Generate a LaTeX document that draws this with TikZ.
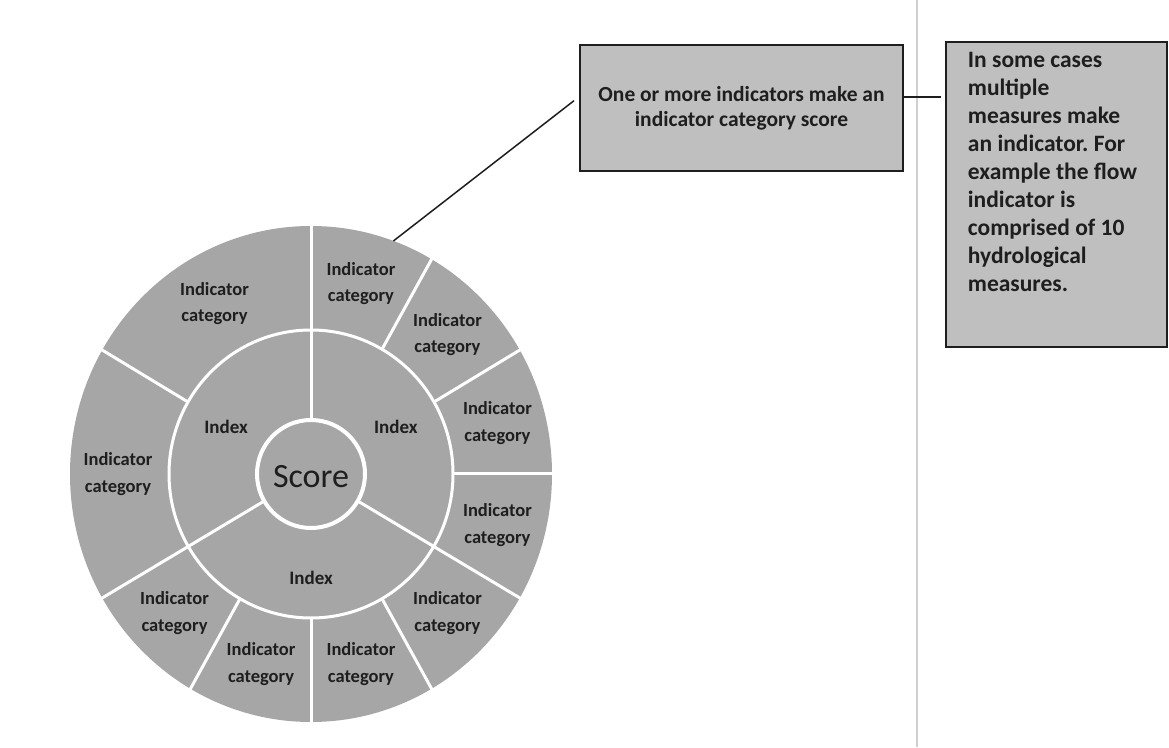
\documentclass[tikz,border=0pt]{standalone}
\usepackage{fontspec}
\setmainfont{Carlito}
\usetikzlibrary{positioning}
\definecolor{wheelgray}{HTML}{A6A6A6}
\definecolor{boxgray}{HTML}{BFBFBF}
\definecolor{inkgray}{HTML}{1E1E1E}
\definecolor{sepgray}{HTML}{CFCFCF}
\frenchspacing

\begin{document}
\begin{tikzpicture}
   [x=1pt,y=1pt,every node/.style={draw=none,inner sep = 0pt,text=inkgray},
    cat/.style={font=\fontsize{18.5}{26.5}\selectfont\bfseries,align=center},
    idx/.style={font=\fontsize{19}{23}\selectfont\bfseries},
    note/.style={draw=inkgray,line width=2.5pt,fill=boxgray},
    gap/.style={white,line width=3pt}]

\useasboundingbox (0,0) rectangle (1169,747);

% page edge
\draw[sepgray, line width=1.5pt] (917,0) -- (917,747);

%%%%%%%%%%%%%%%%%%%%%%%%%%%%%%%%%%%%%%%%%%%%%%%%%%%%%%%%%%%%%%%
% Wheel = score, index ring, indicator category ring
%%%%%%%%%%%%%%%%%%%%%%%%%%%%%%%%%%%%%%%%%%%%%%%%%%%%%%%%%%%%%%%
\begin{scope}[shift={(311,273)}]

% Grey disc
\fill[wheelgray] (0,0) ellipse [x radius=241, y radius=248];

% White dividers
\foreach \a in {0,30,60,150,240,270,300}
	\draw[gap] (\a:142 and 144) -- (\a:245 and 252);
\foreach \a in {90,210,330}
	\draw[gap] (\a:54) -- (\a:245 and 252);

% White rings
\draw[gap] (0,0) ellipse [x radius=142, y radius=144];
\draw[gap, line width=4pt] (0,0) circle [radius=54];

% Labels
\node[font=\fontsize{34}{40}\selectfont] (sc) at (0,-3) {Score};

\node[idx] (ix1) at (30:98 and 94) {Index};
\node[idx] (ix2) at (150:98 and 94) {Index};
\node[idx] (ix3) at (270:104) {Index};

\foreach \a [count=\i] in {75,45,15,-15,-45,-75,-105,-135,180,120}
	\node[cat] (ic\i) at (\a:193 and 197) {Indicator\\category};

% Point on the rim for the call-out
\coordinate (rim) at (70:241 and 248);

\end{scope}

%%%%%%%%%%%%%%%%%%%%%%%%%%%%%%%%%%%%%%%%%%%%%%%%%%%%%%%%%%%%%%%
% Call-out boxes
%%%%%%%%%%%%%%%%%%%%%%%%%%%%%%%%%%%%%%%%%%%%%%%%%%%%%%%%%%%%%%%
\node[note, minimum width=323pt, minimum height=126pt, align=center,
	font=\fontsize{21.5}{25}\selectfont\bfseries] (box1) at (741.5,639)
	{One or more indicators make an\\indicator category score};

\node[note, minimum width=221pt, minimum height=305pt] (box2) at (1056.5,552.5) {};
\node[anchor=north west, align=left, font=\fontsize{23.5}{28}\selectfont\bfseries]
	(box2txt) at ([xshift=23pt,yshift=-11pt]box2.north west)
	{In some cases\\multiple\\measures make\\an indicator. For\\example the flow\\indicator is\\comprised of 10\\hydrological\\measures.};

% Connecting lines
\draw[inkgray, line width=1.5pt, shorten <=6pt] ([yshift=11pt]box1.west) -- (rim);
\draw[inkgray, line width=2pt, shorten >=4pt] ([yshift=11pt]box1.east) -- ([yshift=11pt]box1.east -| box2.west);

\end{tikzpicture}
\end{document}
